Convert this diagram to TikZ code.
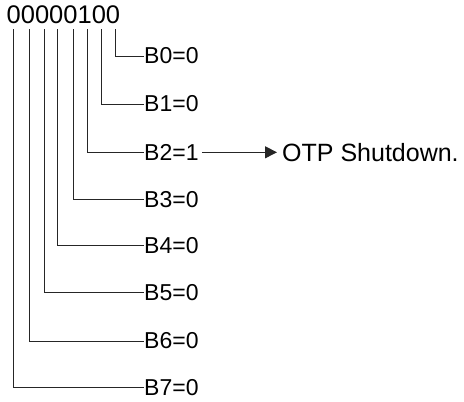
\documentclass[tikz,border=0pt]{standalone}
\usepackage{fontspec}
\setmainfont{Liberation Sans}
\usetikzlibrary{arrows.meta}
\begin{document}
\begin{tikzpicture}[x=1pt,y=1pt,
  wire/.style={line width=0.9pt,black!85},
  lbl/.style={anchor=west,inner sep=0pt,font=\fontsize{23}{26}\selectfont},
  arr/.style={wire,-{Triangle[length=12pt,width=12pt]},shorten >=5pt}]
\useasboundingbox (0,0) rectangle (464,-402);
\node[anchor=west,inner sep=0pt,font=\fontsize{25.5}{28}\selectfont] (bits) at (6.5,-15) {00000100};
% bit columns (x) and rows (y)
\foreach \i/\x/\y in {0/115.7/56,1/101.7/104,2/87.3/152.3,3/73.3/199.5,4/57.3/245.7,5/44.3/292.5,6/29.3/341,7/13.3/387.7}{
  \coordinate (t\i) at (\x,-29);
  \node[lbl] (b\i) at (144,-\y) {B\i=\ifnum\i=2 1\else 0\fi};
  \draw[wire] (t\i) |- (b\i.west);
}
\node[lbl,font=\fontsize{25}{28}\selectfont] (otp) at (282,-152.3) {OTP Shutdown.};
\draw[arr] (b2.east) ++(3,0) coordinate (a0) (a0) -- (otp.west);
\end{tikzpicture}
\end{document}
